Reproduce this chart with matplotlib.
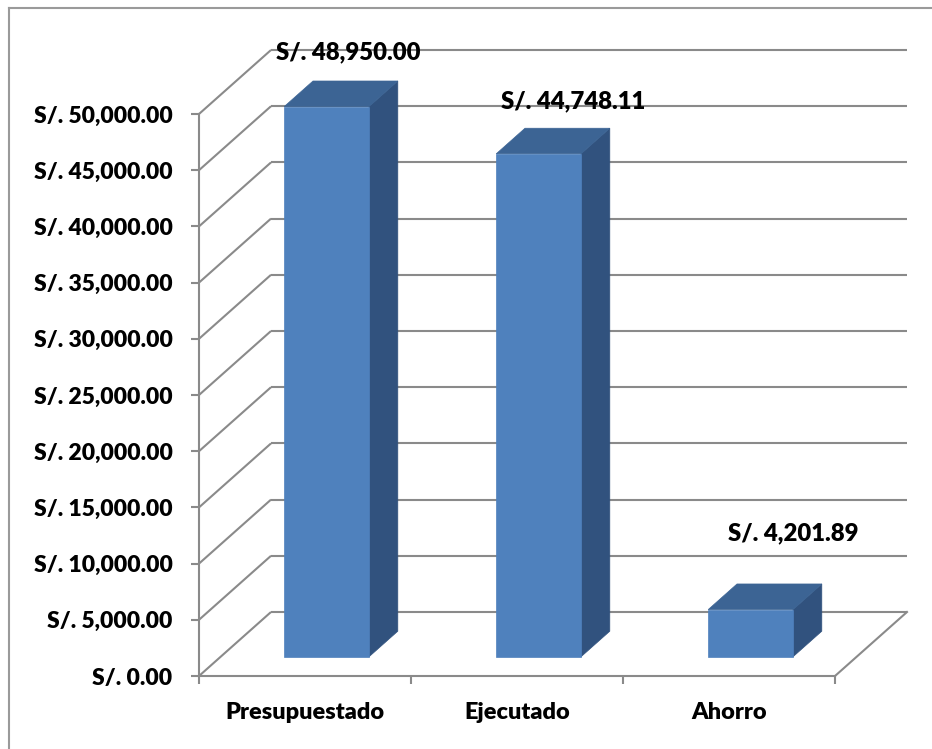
import matplotlib
matplotlib.use('Agg')
import matplotlib.pyplot as plt
from matplotlib.patches import Polygon
from matplotlib.lines import Line2D
from matplotlib.font_manager import FontProperties

# ---- data ----
categories = ['Presupuestado', 'Ejecutado', 'Ahorro']
values = [48950.00, 44748.11, 4201.89]
value_labels = ['S/. 48,950.00', 'S/. 44,748.11', 'S/. 4,201.89']
y_ticks = [0, 5000, 10000, 15000, 20000, 25000, 30000, 35000, 40000, 45000, 50000]

# ---- layout ----
W, H, DPI = 932, 749, 100
GRID = '#8A8A8A'
FRONT = '#4F81BD'
TOP = '#3C6494'
SIDE = '#31527E'
fp_y = FontProperties(family='Lato', weight='heavy', size=16.5)
fp_x = FontProperties(family='Lato', weight='heavy', size=16.9)
fp_v = FontProperties(family='Lato', weight='heavy', size=17.2)

fig = plt.figure(figsize=(W / DPI, H / DPI), dpi=DPI)
fig.patch.set_facecolor('white')

left_px, right_px, bottom_px, top_px = 199, 835, 676, 114
ax = fig.add_axes([left_px / W, 1 - bottom_px / H,
                   (right_px - left_px) / W, (bottom_px - top_px) / H])
ax.set_xlim(-0.5, 2.5)
ax.set_ylim(0, 50000)
ax.patch.set_visible(False)

px_per_x = (right_px - left_px) / 3.0
px_per_y = (bottom_px - top_px) / 50000.0
DX = 72 / px_per_x
DY = 64 / px_per_y


def proj(x, y, z):
    return (x + z * DX, y + z * DY)


lw = 1.5
# back wall gridlines and left wall diagonals
for v in y_ticks:
    a = proj(-0.5, v, 1)
    b = proj(2.5, v, 1)
    ax.plot([a[0], b[0]], [a[1], b[1]], color=GRID, lw=lw, clip_on=False,
            solid_capstyle='butt', zorder=1)
    c = proj(-0.5, v, 0)
    ax.plot([c[0], a[0]], [c[1], a[1]], color=GRID, lw=lw, clip_on=False,
            solid_capstyle='butt', zorder=1)
# floor right edge
p = proj(2.5, 0, 0)
q = proj(2.5, 0, 1)
ax.plot([p[0], q[0]], [p[1], q[1]], color=GRID, lw=lw, clip_on=False, zorder=1)

# bars
bw = 0.4
z0, z1 = 0.3, 0.7
for i, v in enumerate(values):
    x0, x1 = i - bw / 2, i + bw / 2
    front = [proj(x0, 0, z0), proj(x1, 0, z0), proj(x1, v, z0), proj(x0, v, z0)]
    top = [proj(x0, v, z0), proj(x1, v, z0), proj(x1, v, z1), proj(x0, v, z1)]
    side = [proj(x1, 0, z0), proj(x1, 0, z1), proj(x1, v, z1), proj(x1, v, z0)]
    for poly, col in ((side, SIDE), (top, TOP), (front, FRONT)):
        ax.add_patch(Polygon(poly, closed=True, facecolor=col, edgecolor=col,
                             lw=0.5, clip_on=False, zorder=3))

# value labels (anchored to the back-top centre of each bar)
label_offsets = [(-7, 29), (6, 27), (14, 51)]
for i, (v, t) in enumerate(zip(values, value_labels)):
    anchor = proj(i, v, z1)
    ax.annotate(t, xy=anchor, xytext=label_offsets[i], textcoords='offset pixels',
                ha='center', va='center', fontproperties=fp_v,
                color='black', zorder=5, annotation_clip=False)

# spines
for s in ('top', 'right'):
    ax.spines[s].set_visible(False)
for s in ('left', 'bottom'):
    ax.spines[s].set_color(GRID)
    ax.spines[s].set_linewidth(lw)

# y ticks
ax.set_yticks(y_ticks)
ax.set_yticklabels([f'S/. {v:,.2f}' for v in y_ticks])
ax.tick_params(axis='y', direction='out', length=6, width=lw, color=GRID, pad=13)
for lab in ax.get_yticklabels():
    lab.set_fontproperties(fp_y)

# x ticks
ax.set_xticks([-0.5, 0.5, 1.5, 2.5])
ax.set_xticklabels(['', '', '', ''])
ax.set_xticks([0, 1, 2], minor=True)
ax.set_xticklabels(categories, minor=True)
ax.tick_params(axis='x', which='major', direction='out', length=6, width=lw, color=GRID)
ax.tick_params(axis='x', which='minor', length=0, pad=19)
for lab in ax.get_xticklabels(minor=True):
    lab.set_fontproperties(fp_x)

# outer chart border (top and left visible)
BORDER = '#9A9A9A'
fig.add_artist(Line2D([9 / W, 1], [1 - 8 / H, 1 - 8 / H], color=BORDER, lw=1.5,
                      transform=fig.transFigure))
fig.add_artist(Line2D([9 / W, 9 / W], [0, 1 - 8 / H], color=BORDER, lw=1.5,
                      transform=fig.transFigure))

fig.savefig('out.png', dpi=DPI, facecolor='white')
